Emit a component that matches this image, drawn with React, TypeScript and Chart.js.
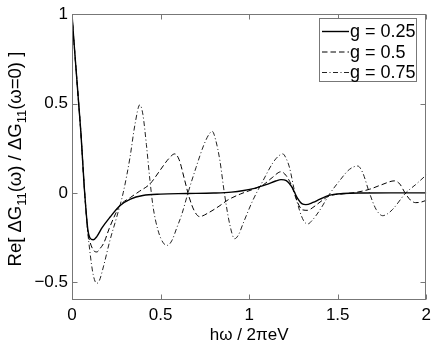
import React, { useEffect, useRef } from "react";
import { Chart, registerables } from "chart.js";

Chart.register(...registerables);

// ---- data ----
const xTicks = [0, 0.5, 1, 1.5, 2];
const yTicks = [-0.5, 0, 0.5, 1];

const seriesLabels = ["g = 0.25", "g = 0.5", "g = 0.75"];

const g025X = [0, 0.01, 0.02, 0.03, 0.04, 0.05, 0.06, 0.07, 0.08, 0.09, 0.1, 0.12, 0.14, 0.17, 0.214, 0.27, 0.33, 0.4, 0.5, 0.65, 0.8, 0.9, 0.97, 1.03, 1.1, 1.15, 1.18, 1.21, 1.24, 1.27, 1.3, 1.32, 1.36, 1.4, 1.45, 1.53, 1.65, 1.8, 2.0];
const g025Y = [1, 0.86, 0.73, 0.6, 0.47, 0.34, 0.18, 0.02, -0.11, -0.21, -0.25, -0.263, -0.245, -0.195, -0.137, -0.072, -0.035, -0.015, -0.007, -0.004, -0.001, 0.004, 0.013, 0.025, 0.047, 0.066, 0.074, 0.068, 0.035, -0.025, -0.062, -0.066, -0.054, -0.035, -0.014, -0.004, -0.001, 0, 0];

const g050X = [0, 0.01, 0.02, 0.03, 0.04, 0.05, 0.06, 0.07, 0.08, 0.09, 0.1, 0.12, 0.14, 0.16, 0.18, 0.21, 0.24, 0.27, 0.33, 0.38, 0.44, 0.5, 0.545, 0.58, 0.605, 0.635, 0.66, 0.69, 0.72, 0.77, 0.83, 0.88, 0.95, 1.02, 1.08, 1.13, 1.18, 1.21, 1.24, 1.27, 1.3, 1.33, 1.36, 1.4, 1.45, 1.53, 1.6, 1.68, 1.75, 1.82, 1.85, 1.88, 1.91, 1.94, 1.97, 2.0];
const g050Y = [1, 0.86, 0.73, 0.6, 0.47, 0.34, 0.18, 0.02, -0.11, -0.225, -0.27, -0.32, -0.331, -0.31, -0.28, -0.2, -0.13, -0.072, -0.026, 0.008, 0.05, 0.13, 0.19, 0.218, 0.185, 0.075, -0.02, -0.1, -0.133, -0.112, -0.075, -0.04, -0.007, 0.019, 0.045, 0.085, 0.118, 0.095, 0.04, -0.045, -0.095, -0.098, -0.082, -0.052, -0.018, -0.006, 0.002, 0.02, 0.046, 0.067, 0.05, 0.0, -0.04, -0.055, -0.052, -0.042];

const g075X = [0, 0.01, 0.02, 0.03, 0.04, 0.05, 0.06, 0.07, 0.08, 0.09, 0.1, 0.11, 0.12, 0.13, 0.14, 0.155, 0.177, 0.214, 0.252, 0.289, 0.327, 0.355, 0.383, 0.4, 0.42, 0.44, 0.458, 0.486, 0.515, 0.539, 0.565, 0.59, 0.62, 0.655, 0.7, 0.745, 0.775, 0.792, 0.81, 0.835, 0.86, 0.89, 0.918, 0.94, 0.965, 1.02, 1.078, 1.134, 1.165, 1.19, 1.21, 1.228, 1.256, 1.285, 1.31, 1.332, 1.355, 1.397, 1.454, 1.51, 1.566, 1.613, 1.641, 1.679, 1.717, 1.754, 1.78, 1.81, 1.885, 1.94, 2.0];
const g075Y = [1, 0.86, 0.73, 0.6, 0.47, 0.34, 0.18, 0.02, -0.11, -0.23, -0.32, -0.4, -0.46, -0.495, -0.507, -0.49, -0.415, -0.267, -0.137, 0.0, 0.196, 0.38, 0.493, 0.44, 0.27, 0.07, -0.08, -0.211, -0.28, -0.294, -0.265, -0.2, -0.12, 0.0, 0.141, 0.27, 0.33, 0.344, 0.3, 0.18, 0.0, -0.174, -0.257, -0.235, -0.174, -0.044, 0.067, 0.168, 0.205, 0.218, 0.19, 0.141, 0.011, -0.1, -0.16, -0.174, -0.155, -0.1, -0.007, 0.067, 0.131, 0.15, 0.113, 0.0, -0.093, -0.128, -0.118, -0.093, 0.0, 0.046, 0.1];

const FONT = "'Liberation Sans', Arial, Helvetica, sans-serif";
const BOX = "#777777";

const toPts = (xs: number[], ys: number[]) => xs.map((x, i) => ({ x, y: ys[i] }));

const framePlugin = {
  id: "frame",
  afterDraw(chart: any) {
    const ctx = chart.ctx;
    const { left, right, top, bottom } = chart.chartArea;
    const xs = chart.scales.x;
    const ys = chart.scales.y;
    ctx.save();
    // box
    ctx.strokeStyle = BOX;
    ctx.lineWidth = 1;
    const L = Math.round(left) + 0.5;
    const R = Math.round(right) - 0.5;
    const T = Math.round(top) + 0.5;
    const B = Math.round(bottom) - 0.5;
    ctx.strokeRect(L, T, R - L, B - T);
    // inward ticks
    const tl = 5;
    ctx.beginPath();
    xTicks.forEach((v) => {
      const px = Math.round(xs.getPixelForValue(v)) + 0.5;
      ctx.moveTo(px, B);
      ctx.lineTo(px, B - tl);
      ctx.moveTo(px, T);
      ctx.lineTo(px, T + tl);
    });
    yTicks.forEach((v) => {
      const py = Math.round(ys.getPixelForValue(v)) + 0.5;
      ctx.moveTo(L, py);
      ctx.lineTo(L + tl, py);
      ctx.moveTo(R, py);
      ctx.lineTo(R - tl, py);
    });
    ctx.stroke();

    // x title
    ctx.fillStyle = "#000";
    ctx.font = `17px ${FONT}`;
    ctx.textAlign = "center";
    ctx.textBaseline = "alphabetic";
    ctx.fillText("h\u03c9 / 2\u03c0eV", (left + right) / 2, 340);

    // y title with subscripts
    const parts: [string, boolean][] = [
      ["Re[ \u0394G", false],
      ["11", true],
      ["(\u03c9) / \u0394G", false],
      ["11", true],
      ["(\u03c9=0) ]", false],
    ];
    const fs = 18.5;
    const sfs = 13;
    let total = 0;
    parts.forEach(([t, sub]) => {
      ctx.font = `${sub ? sfs : fs}px ${FONT}`;
      total += ctx.measureText(t).width;
    });
    ctx.translate(21, (top + bottom) / 2 + 2);
    ctx.rotate(-Math.PI / 2);
    ctx.textAlign = "left";
    let cx = -total / 2;
    parts.forEach(([t, sub]) => {
      ctx.font = `${sub ? sfs : fs}px ${FONT}`;
      ctx.fillText(t, cx, sub ? 4.5 : 0);
      cx += ctx.measureText(t).width;
    });
    ctx.restore();

    // legend
    ctx.save();
    const lx0 = 319.5, ly0 = 18.5, lw = 97, lh = 63;
    ctx.fillStyle = "#fff";
    ctx.fillRect(lx0, ly0, lw, lh);
    ctx.strokeStyle = BOX;
    ctx.lineWidth = 1;
    ctx.strokeRect(lx0, ly0, lw, lh);
    ctx.font = `18px ${FONT}`;
    ctx.textBaseline = "middle";
    ctx.textAlign = "left";
    chart.data.datasets.forEach((ds: any, i: number) => {
      const cy = 31.5 + i * 20.5;
      ctx.strokeStyle = ds.borderColor;
      ctx.lineWidth = ds.borderWidth;
      ctx.setLineDash(ds.borderDash || []);
      ctx.beginPath();
      ctx.moveTo(322, cy);
      ctx.lineTo(349, cy);
      ctx.stroke();
      ctx.setLineDash([]);
      ctx.fillStyle = "#000";
      ctx.fillText(ds.label, 350, cy + 1);
    });
    ctx.restore();
  },
};

export default function App() {
  const ref = useRef<HTMLCanvasElement>(null);
  useEffect(() => {
    if (!ref.current) return;
    const chart = new Chart(ref.current, {
      type: "line",
      data: {
        datasets: [
          {
            label: seriesLabels[0],
            data: toPts(g025X, g025Y),
            borderColor: "#000",
            borderWidth: 1.4,
            borderDash: [],
            pointRadius: 0,
            cubicInterpolationMode: "monotone",
            fill: false,
          },
          {
            label: seriesLabels[1],
            data: toPts(g050X, g050Y),
            borderColor: "#000",
            borderWidth: 1,
            borderDash: [5.5, 3],
            pointRadius: 0,
            cubicInterpolationMode: "monotone",
            fill: false,
          },
          {
            label: seriesLabels[2],
            data: toPts(g075X, g075Y),
            borderColor: "#222",
            borderWidth: 1,
            borderDash: [5, 2.5, 1, 2.5],
            pointRadius: 0,
            cubicInterpolationMode: "monotone",
            fill: false,
          },
        ],
      },
      options: {
        responsive: false,
        devicePixelRatio: 1,
        animation: false,
        layout: { padding: { top: 12, right: 9, left: 0, bottom: 0 } },
        plugins: { legend: { display: false }, tooltip: { enabled: false } },
        scales: {
          x: {
            type: "linear",
            min: 0,
            max: 2,
            grid: { display: false, drawTicks: false },
            border: { display: false },
            ticks: {
              color: "#000",
              font: { family: FONT, size: 17 },
              padding: 5,
              autoSkip: false,
              maxRotation: 0,
              callback: (v: any) => (v < 0 ? "\u2212" + String(-v) : String(v)),
            },
            afterBuildTicks: (s: any) => {
              s.ticks = xTicks.map((v) => ({ value: v }));
            },
            afterFit: (s: any) => {
              s.height = 42;
            },
          },
          y: {
            type: "linear",
            min: -0.6,
            max: 1,
            grid: { display: false, drawTicks: false },
            border: { display: false },
            ticks: {
              color: "#000",
              font: { family: FONT, size: 17 },
              padding: 4,
              autoSkip: false,
              callback: (v: any) => (v < 0 ? "\u2212" + String(-v) : String(v)),
            },
            afterBuildTicks: (s: any) => {
              s.ticks = yTicks.map((v) => ({ value: v }));
            },
            afterFit: (s: any) => {
              s.width = 72;
            },
          },
        },
      },
      plugins: [framePlugin],
    } as any);
    return () => chart.destroy();
  }, []);
  return (
    <div style={{ position: "absolute", left: 0, top: 0, width: 436, height: 342, background: "#fff" }}>
      <canvas ref={ref} width={436} height={342} style={{ display: "block" }} />
    </div>
  );
}
